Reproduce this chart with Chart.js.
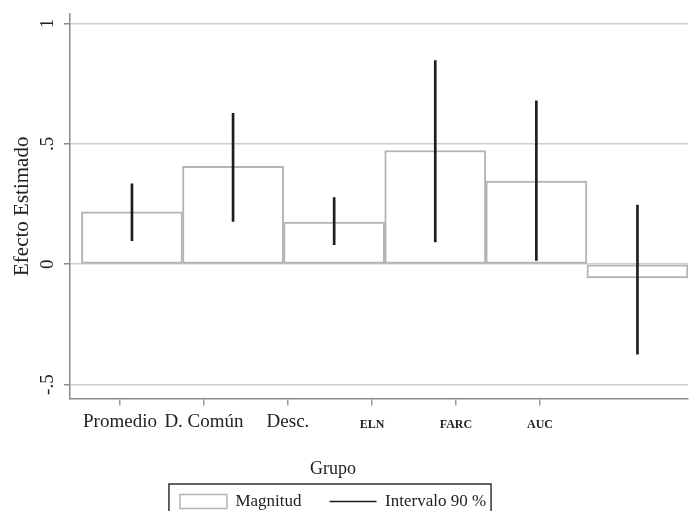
<!DOCTYPE html>
<html>
<head>
<meta charset="utf-8">
<script src="https://cdn.jsdelivr.net/npm/chart.js@4.4.0/dist/chart.umd.min.js"></script>
<style>
  html, body { margin: 0; padding: 0; background: #fff; }
</style>
</head>
<body>
<canvas id="grafico" width="691" height="511"></canvas>
<script>
const grupos = ['Promedio', 'D. Común', 'Desc.', 'ELN', 'FARC', 'AUC'];
const magnitud = [0.217, 0.406, 0.175, 0.472, 0.345, -0.057];
const limInferior = [0.098, 0.178, 0.081, 0.092, 0.016, -0.374];
const limSuperior = [0.334, 0.627, 0.277, 0.846, 0.678, 0.246];
const yTicks = [-0.5, 0, 0.5, 1];
const yTickLabels = ['-.5', '0', '.5', '1'];
const series = ['Magnitud', 'Intervalo 90 %'];

const serif = "'Liberation Serif', 'Times New Roman', serif";
Chart.defaults.font.family = serif;
Chart.defaults.color = '#222';

// caja alrededor de la leyenda, como en Stata
const marcoLeyenda = {
  id: 'marcoLeyenda',
  afterDraw(chart) {
    const cajas = chart.legend && chart.legend.legendHitBoxes;
    if (!cajas || !cajas.length) return;
    const a = cajas[0], b = cajas[cajas.length - 1];
    const ctx = chart.ctx;
    ctx.save();
    ctx.strokeStyle = '#333';
    ctx.lineWidth = 1.5;
    const x0 = a.left - 11;
    ctx.strokeRect(x0, a.top - 9, b.left + b.width + 5 - x0, 45);
    ctx.restore();
  }
};

new Chart(document.getElementById('grafico'), {
  type: 'bar',
  data: {
    datasets: [{
      label: series[0],
      data: grupos.map((g, i) => ({ x: i, y: magnitud[i] })),
      xAxisID: 'xb',
      backgroundColor: '#fff',
      borderColor: '#b4b4b4',
      borderWidth: 2,
      borderSkipped: false,
      barPercentage: 1,
      categoryPercentage: 1,
      grouped: false,
      order: 1
    }, {
      label: series[1],
      data: grupos.map((g, i) => ({ x: i, y: [limInferior[i], limSuperior[i]] })),
      xAxisID: 'xb',
      backgroundColor: '#1e1e1e',
      borderWidth: 0,
      barThickness: 2,
      grouped: false,
      order: 0
    }]
  },
  options: {
    responsive: false,
    animation: false,
    layout: { padding: { left: -22, right: 3, top: 14, bottom: -9 } },
    scales: {
      xb: {
        type: 'linear',
        display: false,
        offset: false,
        min: -0.613,
        max: 5.5,
        afterBuildTicks: s => { s.ticks = grupos.map((g, i) => ({ value: i })); },
        grid: { offset: false }
      },
      x: {
        type: 'linear',
        position: 'bottom',
        offset: false,
        min: -0.595,
        max: 6.762,
        afterBuildTicks: s => { s.ticks = grupos.map((g, i) => ({ value: i })); },
        ticks: {
          autoSkip: false,
          maxRotation: 0,
          padding: 5,
          color: '#222',
          callback: (v, i) => grupos[i],
          font: ctx => ctx.index < 3 ? { size: 19 } : { size: 12, weight: 'bold', lineHeight: 2.37 }
        },
        grid: {
          offset: false,
          drawOnChartArea: false,
          drawTicks: true,
          tickLength: 7,
          tickColor: '#999',
          lineWidth: 1.5
        },
        border: { display: true, color: '#8c8c8c', width: 1.5 }
      },
      y: {
        min: -0.558,
        max: 1.039,
        afterBuildTicks: s => { s.ticks = yTicks.map(v => ({ value: v })); },
        afterFit: s => { s.width = 92; s.paddingTop = 0; s.paddingBottom = 0; },
        ticks: {
          callback: (v, i) => yTickLabels[i],
          minRotation: 90,
          maxRotation: 90,
          crossAlign: 'center',
          padding: 6,
          color: '#222',
          font: { size: 19 }
        },
        grid: {
          color: '#cdcdcd',
          lineWidth: 1.5,
          tickColor: '#8c8c8c',
          tickLength: 6
        },
        border: { color: '#8c8c8c', width: 1.5 },
        title: {
          display: true,
          text: 'Efecto Estimado',
          color: '#222',
          font: { size: 21 },
          padding: { top: 32, bottom: 0 }
        }
      }
    },
    plugins: {
      tooltip: { enabled: false },
      legend: {
        position: 'bottom',
        onClick: null,
        title: {
          display: true,
          text: 'Grupo',
          color: '#222',
          font: { size: 18 },
          padding: { top: 16.4, bottom: -17 }
        },
        labels: {
          color: '#222',
          font: { size: 17 },
          padding: 28,
          usePointStyle: true,
          pointStyleWidth: 47,
          boxHeight: 14,
          generateLabels: () => [
            { text: series[0], fillStyle: '#fff', strokeStyle: '#b4b4b4', lineWidth: 1.5, pointStyle: 'rect', datasetIndex: 0, hidden: false },
            { text: series[1], fillStyle: '#1e1e1e', strokeStyle: '#1e1e1e', lineWidth: 1.5, pointStyle: 'line', datasetIndex: 1, hidden: false }
          ]
        }
      }
    }
  },
  plugins: [marcoLeyenda]
});
</script>
</body>
</html>
